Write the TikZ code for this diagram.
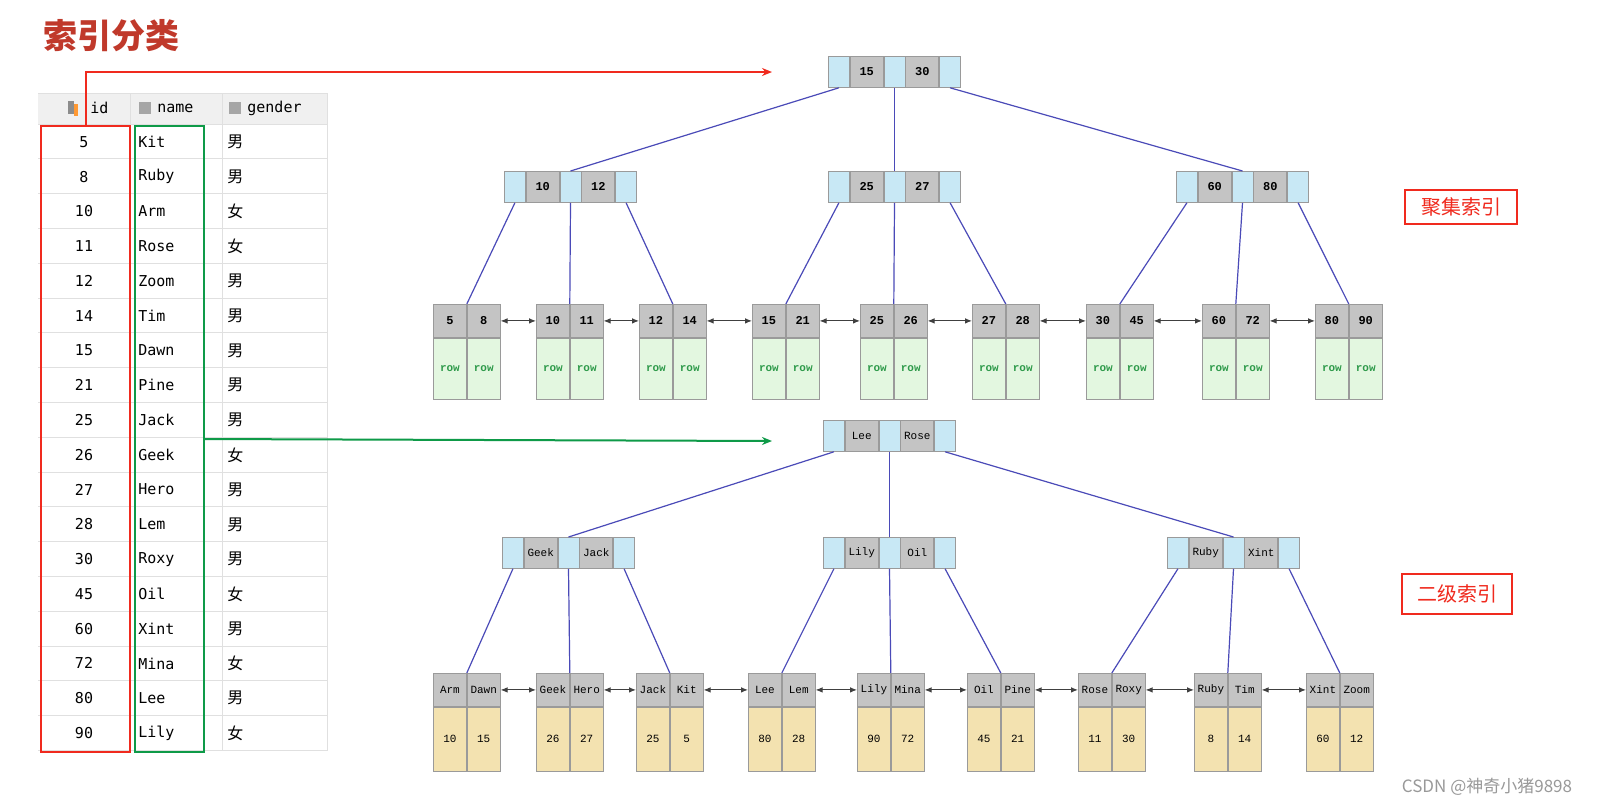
\documentclass[tikz,border=0pt]{standalone}
\usepackage{fontspec}
\setmainfont{DejaVu Sans}
\newfontfamily\cjk{Noto Sans CJK SC}
\newfontfamily\tmono{Liberation Mono}
\newfontfamily\dmono{DejaVu Sans Mono}
\usetikzlibrary{arrows.meta}
\definecolor{cblue}{HTML}{C8E8F5}
\definecolor{cgray}{HTML}{C4C4C4}
\definecolor{cgreen}{HTML}{E3F7E0}
\definecolor{cyel}{HTML}{F3E2B0}
\definecolor{cedge}{HTML}{9A9A9A}
\definecolor{rowtxt}{HTML}{2E9A4A}
\definecolor{tline}{HTML}{4A4AB8}
\definecolor{titlered}{HTML}{C0392B}
\definecolor{boxred}{HTML}{F02A1E}
\definecolor{boxgreen}{HTML}{0E9A48}
\def\u{0.5pt}
\tikzset{
 bc/.style={draw=cedge,fill=cblue,minimum width=21*\u,minimum height=31*\u,inner sep=0,anchor=north west},
 gc/.style={draw=cedge,fill=cgray,minimum width=33*\u,minimum height=31*\u,inner sep=0,anchor=north west,font=\tmono\fontsize{6}{7}\selectfont\bfseries},
 gcn/.style={gc,font=\tmono\fontsize{5.5}{7}\selectfont},
 hc/.style={draw=cedge,fill=cgray,minimum width=33*\u,minimum height=33*\u,inner sep=0,anchor=north west,font=\tmono\fontsize{6}{7}\selectfont\bfseries},
 hcn/.style={hc,font=\tmono\fontsize{5.5}{7}\selectfont},
 rowb/.style={draw=cedge,fill=cgreen,minimum width=33*\u,minimum height=61*\u,inner sep=0,anchor=north west,text=rowtxt,font=\tmono\fontsize{5.5}{7}\selectfont\bfseries},
 numb/.style={draw=cedge,fill=cyel,minimum width=33*\u,minimum height=64*\u,inner sep=0,anchor=north west,font=\tmono\fontsize{5.5}{7}\selectfont},
 tl/.style={draw=tline,line width=0.6pt},
 la/.style={draw=black!75,line width=0.5pt,{Latex[length=3.5pt,width=2.8pt]}-{Latex[length=3.5pt,width=2.8pt]}},
 cell/.style={font=\dmono\fontsize{7.5}{9}\selectfont,inner sep=0},
 lbl/.style={draw=boxred,text=boxred,line width=0.6pt,font=\cjk\fontsize{10}{12}\selectfont,inner sep=0},
}
\newcommand\inode[6]{%
 \node[bc] (#1-l) at (#2,#3) {};%
 \node[#6] (#1-a) at (#1-l.north east) {#4};%
 \node[bc] (#1-m) at (#1-a.north east) {};%
 \node[#6] (#1-b) at (#1-m.north east) {#5};%
 \node[bc] (#1-r) at (#1-b.north east) {};}
\newcommand\leaf[9]{%
 \node[#8] (#1-a) at (#2,#3) {#4};%
 \node[#8] (#1-b) at (#1-a.north east) {#5};%
 \node[#9] (#1-c) at (#1-a.south west) {#6};%
 \node[#9] (#1-d) at (#1-c.north east) {#7};}
\begin{document}
\begin{tikzpicture}[x=0.5pt,y=-0.5pt]
\fill[white] (0,0) rectangle (1615,805);
\node[font=\cjk\bfseries\fontsize{17}{20}\selectfont,text=titlered,anchor=west] (title) at (36,36) {索引分类};
\fill[black!6] (38,93) rectangle (327,124);
\foreach \k in {0,...,18} \draw[black!12] (38,{124+34.8*\k}) -- (327,{124+34.8*\k});
\draw[black!12] (38,93) -- (327,93);
\draw[black!12] (130,93) -- (130,751) (222,93) -- (222,751) (327,93) -- (327,751);
\fill[black!45] (68,101) rectangle (74,114); \fill[orange!80] (74,104) rectangle (78,116);
\fill[black!35] (139,102) rectangle (151,114); \fill[black!35] (229,102) rectangle (241,114);
\node[cell,anchor=west] (hid) at (90,108) {id};
\node[cell,anchor=west] (hname) at (157,108) {name};
\node[cell,anchor=west] (hgender) at (247,108) {gender};
\foreach \id/\nm/\g [count=\i from 0] in {5/Kit/男,8/Ruby/男,10/Arm/女,11/Rose/女,12/Zoom/男,14/Tim/男,15/Dawn/男,21/Pine/男,25/Jack/男,26/Geek/女,27/Hero/男,28/Lem/男,30/Roxy/男,45/Oil/女,60/Xint/男,72/Mina/女,80/Lee/男,90/Lily/女}{
 \node[cell] (id\i) at (84,{142+34.76*\i}) {\id};
 \node[cell,anchor=west] (nm\i) at (138,{142+34.76*\i}) {\nm};
 \node[cell,anchor=west,font=\cjk\fontsize{8}{9}\selectfont] (g\i) at (227,{142+34.76*\i}) {\g};
}
\node[draw=boxred,line width=1pt,minimum width=89*\u,minimum height=626*\u,inner sep=0,anchor=north west] (rbox) at (40,125) {};
\node[draw=boxgreen,line width=1pt,minimum width=69*\u,minimum height=626*\u,inner sep=0,anchor=north west] (gbox) at (134,125) {};
\coordinate (t1) at (772,72);
\coordinate (t2) at (772,441);
\draw[boxred,line width=1pt,-{Stealth[length=5pt,width=4pt]}] (rbox.north) |- (t1);
\draw[boxgreen,line width=1pt,-{Stealth[length=5pt,width=4pt]}] (gbox.east) -- (t2);
\inode{R}{828}{56}{15}{30}{gc}
\inode{A}{504}{171}{10}{12}{gc}
\inode{B}{828}{171}{25}{27}{gc}
\inode{C}{1176}{171}{60}{80}{gc}
\draw[tl] (R-l.south) -- (A-m.north);
\draw[tl] (R-m.south) -- (B-m.north);
\draw[tl] (R-r.south) -- (C-m.north);
\leaf{L1}{433}{304}{5}{8}{row}{row}{hc}{rowb}
\leaf{L2}{536}{304}{10}{11}{row}{row}{hc}{rowb}
\leaf{L3}{639}{304}{12}{14}{row}{row}{hc}{rowb}
\leaf{L4}{752}{304}{15}{21}{row}{row}{hc}{rowb}
\leaf{L5}{860}{304}{25}{26}{row}{row}{hc}{rowb}
\leaf{L6}{972}{304}{27}{28}{row}{row}{hc}{rowb}
\leaf{L7}{1086}{304}{30}{45}{row}{row}{hc}{rowb}
\leaf{L8}{1202}{304}{60}{72}{row}{row}{hc}{rowb}
\leaf{L9}{1315}{304}{80}{90}{row}{row}{hc}{rowb}
\draw[tl] (A-l.south) -- (L1-a.north east);
\draw[tl] (A-m.south) -- (L2-a.north east);
\draw[tl] (A-r.south) -- (L3-a.north east);
\draw[tl] (B-l.south) -- (L4-a.north east);
\draw[tl] (B-m.south) -- (L5-a.north east);
\draw[tl] (B-r.south) -- (L6-a.north east);
\draw[tl] (C-l.south) -- (L7-a.north east);
\draw[tl] (C-m.south) -- (L8-a.north east);
\draw[tl] (C-r.south) -- (L9-a.north east);
\foreach \p/\q in {L1/L2,L2/L3,L3/L4,L4/L5,L5/L6,L6/L7,L7/L8,L8/L9} \draw[la] (\p-b.east) -- (\q-a.west);
\inode{S}{823}{420}{Lee}{Rose}{gcn}
\inode{D}{502}{537}{Geek}{Jack}{gcn}
\inode{E}{823}{537}{Lily}{Oil}{gcn}
\inode{F}{1167}{537}{Ruby}{Xint}{gcn}
\draw[tl] (S-l.south) -- (D-m.north);
\draw[tl] (S-m.south) -- (E-m.north);
\draw[tl] (S-r.south) -- (F-m.north);
\leaf{M1}{433}{673}{Arm}{Dawn}{10}{15}{hcn}{numb}
\leaf{M2}{536}{673}{Geek}{Hero}{26}{27}{hcn}{numb}
\leaf{M3}{636}{673}{Jack}{Kit}{25}{5}{hcn}{numb}
\leaf{M4}{748}{673}{Lee}{Lem}{80}{28}{hcn}{numb}
\leaf{M5}{857}{673}{Lily}{Mina}{90}{72}{hcn}{numb}
\leaf{M6}{967}{673}{Oil}{Pine}{45}{21}{hcn}{numb}
\leaf{M7}{1078}{673}{Rose}{Roxy}{11}{30}{hcn}{numb}
\leaf{M8}{1194}{673}{Ruby}{Tim}{8}{14}{hcn}{numb}
\leaf{M9}{1306}{673}{Xint}{Zoom}{60}{12}{hcn}{numb}
\draw[tl] (D-l.south) -- (M1-a.north east);
\draw[tl] (D-m.south) -- (M2-a.north east);
\draw[tl] (D-r.south) -- (M3-a.north east);
\draw[tl] (E-l.south) -- (M4-a.north east);
\draw[tl] (E-m.south) -- (M5-a.north east);
\draw[tl] (E-r.south) -- (M6-a.north east);
\draw[tl] (F-l.south) -- (M7-a.north east);
\draw[tl] (F-m.south) -- (M8-a.north east);
\draw[tl] (F-r.south) -- (M9-a.north east);
\foreach \p/\q in {M1/M2,M2/M3,M3/M4,M4/M5,M5/M6,M6/M7,M7/M8,M8/M9} \draw[la] (\p-b.east) -- (\q-a.west);
\node[lbl,minimum width=112*\u,minimum height=34*\u] (lab1) at (1461,207) {聚集索引};
\node[lbl,minimum width=110*\u,minimum height=40*\u] (lab2) at (1457,594) {二级索引};
\node[text=black!40,font=\cjk\fontsize{8.5}{10}\selectfont] (wm) at (1487,787) {CSDN @神奇小猪9898};
\pgfresetboundingbox
\useasboundingbox (0,0) rectangle (1615,805);
\end{tikzpicture}
\end{document}
